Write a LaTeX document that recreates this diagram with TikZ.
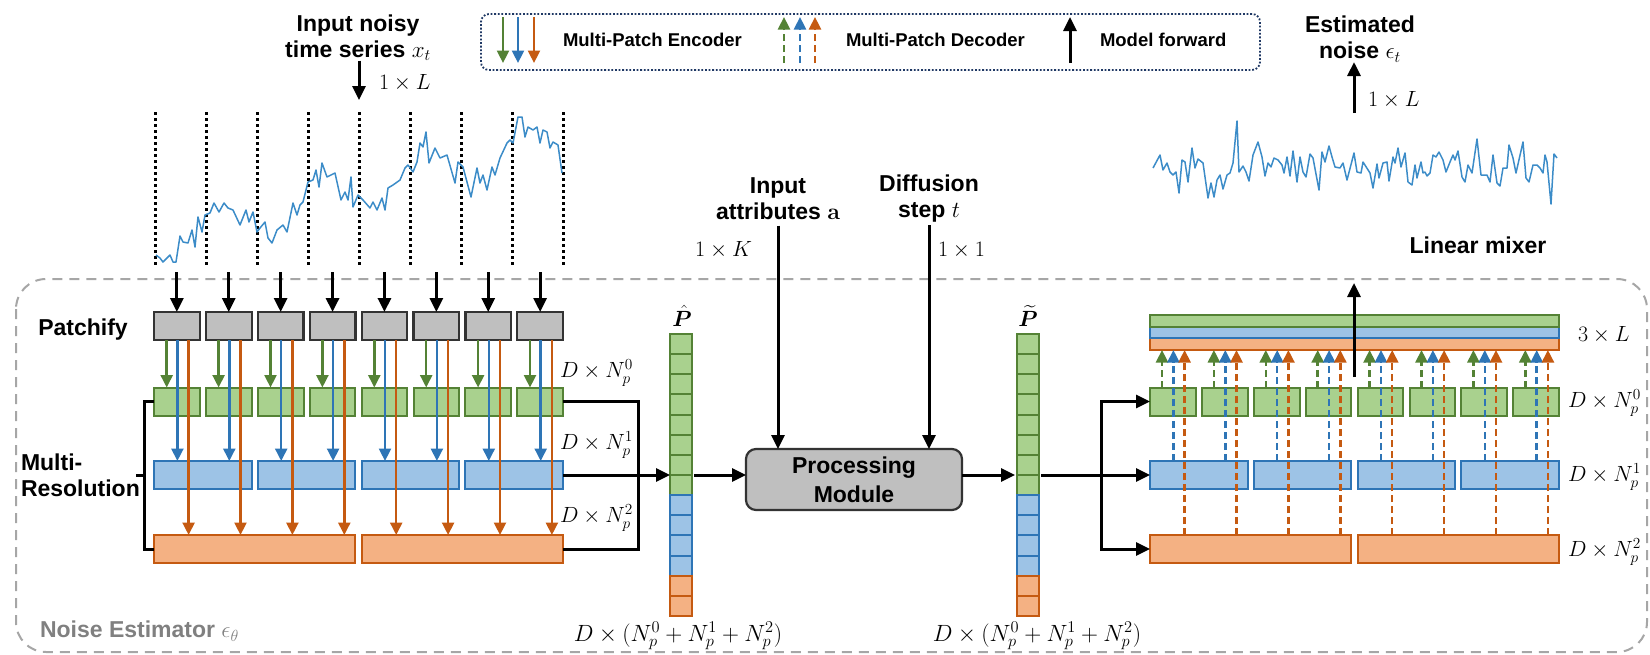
\RequirePackage{fix-cm}
\documentclass[tikz,border=0pt]{standalone}
\usepackage{amsmath,bm}
\usepackage[no-math]{fontspec}
\setmainfont{Liberation Sans}
\usetikzlibrary{arrows.meta,calc}

\definecolor{gfill}{HTML}{A9D18E}
\definecolor{gline}{HTML}{548235}
\definecolor{bfill}{HTML}{9DC3E6}
\definecolor{bline}{HTML}{2E75B6}
\definecolor{ofill}{HTML}{F4B183}
\definecolor{oline}{HTML}{C55A11}
\definecolor{pgray}{HTML}{BFBFBF}
\definecolor{dgray}{HTML}{333333}
\definecolor{framegray}{HTML}{A6A6A6}
\definecolor{navy}{HTML}{1F3864}
\definecolor{series}{HTML}{3C8CC8}
\definecolor{lblgray}{HTML}{808080}

\begin{document}
\begin{tikzpicture}[x=1pt,y=-1pt,
  every node/.style={inner sep=0pt,outer sep=0pt},
  lab/.style={font=\fontsize{23}{26}\selectfont\bfseries,align=center},
  legtext/.style={font=\fontsize{18.5}{22}\selectfont\bfseries,anchor=west},
  mth/.style={font=\fontsize{22}{26}\selectfont},
  bigmth/.style={font=\fontsize{23.5}{27}\selectfont},
  patchbox/.style={draw=dgray,fill=pgray,line width=2.2pt,minimum width=45.7pt,minimum height=28pt},
  gbox/.style={draw=gline,fill=gfill,line width=2pt,minimum height=28pt},
  bbox/.style={draw=bline,fill=bfill,line width=2pt,minimum height=28pt},
  obox/.style={draw=oline,fill=ofill,line width=2pt,minimum height=28pt},
  gcell/.style={draw=gline,fill=gfill,line width=2pt},
  bcell/.style={draw=bline,fill=bfill,line width=2pt},
  ocell/.style={draw=oline,fill=ofill,line width=2pt},
  ktip/.style={-{Triangle[length=14pt,width=13pt]}},
  ctip/.style={-{Triangle[length=12.5pt,width=12pt]}},
  karr/.style={draw=black,line width=3pt,ktip},
  kline/.style={draw=black,line width=3pt},
  garr/.style={draw=gline,line width=2.5pt,ctip},
  barr/.style={draw=bline,line width=2.5pt,ctip},
  oarr/.style={draw=oline,line width=2.5pt,ctip},
  dashedarr/.style={dash pattern=on 7pt off 4pt},
  seriesline/.style={draw=series,line width=1.5pt,line join=round},
  dotline/.style={draw=black,line width=3pt,dash pattern=on 3pt off 3pt},
  proc/.style={draw=dgray,fill=pgray,line width=2.2pt,rounded corners=10pt,
    minimum width=216pt,minimum height=61pt,font=\fontsize{23}{29}\selectfont\bfseries,align=center}
]
\useasboundingbox (0,0) rectangle (1650,654);

% ---------- outer frame of the noise estimator ----------
\draw[draw=framegray,line width=2pt,dash pattern=on 10pt off 7pt,rounded corners=30pt]
  (16,279) rectangle (1647,652);
\node[lab,anchor=west,text=lblgray] (nelabel) at (40,631) {Noise Estimator $\epsilon_\theta$};

% ---------- legend ----------
\node[draw=navy,line width=1.8pt,dash pattern=on 1.8pt off 1.8pt,rounded corners=8pt,
      minimum width=779pt,minimum height=56pt] (legend) at (870.5,42) {};
\draw[garr] (503,17) -- (503,63);
\draw[barr] (518,17) -- (518,63);
\draw[oarr] (534,17) -- (534,63);
\node[legtext] (legenc) at (563,40) {Multi-Patch Encoder};
\draw[garr,dashedarr] (784,63) -- (784,17);
\draw[barr,dashedarr] (800,63) -- (800,17);
\draw[oarr,dashedarr] (815,63) -- (815,17);
\node[legtext] (legdec) at (846,40) {Multi-Patch Decoder};
\draw[karr] (1070,63) -- (1070,17);
\node[legtext] (legfwd) at (1100,40) {Model forward};

% ---------- input series ----------
\node[lab] (intitle) at (358,37.5) {Input noisy\\time series $x_t$};
\coordinate (inend) at (359,100);
\draw[karr] (intitle.south -| inend) -- (inend);
\node[mth,anchor=west] (inL) at (379,83) {$1\times L$};

\foreach \k in {0,...,8} \draw[dotline] ({155+51*\k},112) -- ({155+51*\k},267);

\draw[seriesline] plot coordinates {
(156,255)(160,258)(163,262)(167,258)(170,255)(173,262)(176,262)(180,236)(183,242)(188,243)(192,230)(195,247)
(198,217)(202,232)(205,215)(210,213)(214,203)(219,212)(224,203)(228,208)(233,210)(240,225)(246,210)
(249,222)(253,212)(257,232)(260,228)(265,222)(268,238)(272,243)(277,230)(283,225)(287,232)(293,203)
(297,215)(300,205)(303,202)(308,182)(313,180)(316,170)(319,187)(322,163)(327,177)(335,173)(341,200)
(345,192)(348,200)(351,177)(353,207)(358,195)(363,200)(370,208)(373,202)(377,210)(382,198)(385,210)
(388,188)(393,185)(400,180)(405,168)(408,165)(413,172)(417,162)(420,143)(423,147)(426,132)(429,163)
(435,148)(440,158)(447,155)(455,183)(458,162)(463,167)(471,197)(477,168)(480,183)(483,175)(487,190)
(492,167)(495,175)(500,158)(507,143)(510,140)(513,143)(518,117)(522,117)(525,137)(528,127)(533,130)
(537,127)(540,143)(543,130)(547,132)(550,148)(553,142)(558,145)(562,173)};

% ---------- encoder ----------
\node[lab] (patchify) at (83,330) {Patchify};
\node[lab,anchor=west,align=left] (multires) at (21,475.5) {Multi-\\Resolution};

\foreach \i in {0,...,7} {
  \node[patchbox] (p\i) at ({154+51.9*\i+22.85},326) {};
  \node[gbox,minimum width=45.7pt] (g\i) at ({154+51.9*\i+22.85},401.5) {};
  \coordinate (pin\i) at ({154+51.9*\i+22.85},272);
  \draw[karr] (pin\i) -- (p\i.north);
}
\foreach \j in {0,...,3}
  \node[bbox,minimum width=97.6pt] (b\j) at ({154+103.8*\j+48.8},475) {};
\foreach \k in {0,1}
  \node[obox,minimum width=201.4pt] (o\k) at ({154+207.6*\k+100.7},549) {};

\foreach \i in {0,...,7} {
  \pgfmathtruncatemacro\j{\i/2}
  \pgfmathtruncatemacro\k{\i/4}
  \draw[garr] ([xshift=12.7pt]p\i.south west) -- ([xshift=12.7pt]p\i.south west |- g\i.north);
  \draw[barr] ([xshift=23.4pt]p\i.south west) -- ([xshift=23.4pt]p\i.south west |- b\j.north);
  \draw[oarr] ([xshift=34.6pt]p\i.south west) -- ([xshift=34.6pt]p\i.south west |- o\k.north);
}

% bracket grouping the resolutions
\coordinate (brk) at (144,475);
\draw[kline] (g0.west) -| (brk) |- (o0.west);
\draw[kline] (brk) -- ++(-8,0);

\node[mth,anchor=west] (encd0) at (560,373) {$D\times N_p^0$};
\node[mth,anchor=west] (encd1) at (560,445) {$D\times N_p^1$};
\node[mth,anchor=west] (encd2) at (560,518) {$D\times N_p^2$};

% ---------- concatenated tokens P hat ----------
\node[minimum width=22pt,minimum height=260pt] (ph) at (681,475) {};
\foreach \c in {0,...,7} \draw[gcell] (670,{334+20.143*\c}) rectangle ++(22,20.143);
\foreach \c in {8,...,11} \draw[bcell] (670,{334+20.143*\c}) rectangle ++(22,20.143);
\foreach \c in {12,13} \draw[ocell] (670,{334+20.143*\c}) rectangle ++(22,20.143);
\node[mth] (phlabel) at (682,316) {$\hat{\bm{P}}$};
\node[bigmth] (phdim) at (678,636) {$D\times(N_p^0+N_p^1+N_p^2)$};

\coordinate (ej) at (638,475);
\draw[kline] (g7.east) -| (ej) |- (o1.east);
\draw[karr] (b3.east) -- (ph.west |- b3.east);

% ---------- processing module ----------
\node[proc] (pm) at (854,479.5) {Processing\\Module};
\draw[karr] ([xshift=2pt]ph.east) -- (pm.west |- ph.east);

\node[lab] (attr) at (778,198.5) {Input\\attributes $\mathbf{a}$};
\node[lab] (diff) at (929,198.5) {Diffusion\\step $t$};
\draw[karr] ([yshift=-6pt]attr.south) -- (attr.south |- pm.north);
\draw[karr] ([yshift=-3pt]diff.south) -- (diff.south |- pm.north);
\node[mth,anchor=east] (attrdim) at (752,250) {$1\times K$};
\node[mth,anchor=west] (diffdim) at (938,250) {$1\times 1$};

% ---------- processed tokens P tilde ----------
\node[minimum width=22pt,minimum height=260pt] (pt) at (1028,475) {};
\foreach \c in {0,...,7} \draw[gcell] (1017,{334+20.143*\c}) rectangle ++(22,20.143);
\foreach \c in {8,...,11} \draw[bcell] (1017,{334+20.143*\c}) rectangle ++(22,20.143);
\foreach \c in {12,13} \draw[ocell] (1017,{334+20.143*\c}) rectangle ++(22,20.143);
\node[mth] (ptlabel) at (1028,316) {$\widetilde{\bm{P}}$};
\node[bigmth] (ptdim) at (1037,636) {$D\times(N_p^0+N_p^1+N_p^2)$};

\draw[karr] (pm.east |- pt.west) -- ([xshift=-2pt]pt.west);

% ---------- decoder ----------
\foreach \i in {0,...,7}
  \node[gbox,minimum width=45.7pt] (dg\i) at ({1150+51.9*\i+22.85},401.5) {};
\foreach \j in {0,...,3}
  \node[bbox,minimum width=97.6pt] (db\j) at ({1150+103.8*\j+48.8},475) {};
\foreach \k in {0,1}
  \node[obox,minimum width=201.4pt] (do\k) at ({1150+207.6*\k+100.7},549) {};

\node[draw=oline,fill=ofill,line width=2pt,minimum width=409pt,minimum height=12pt] (baro) at (1354.5,344) {};
\node[draw=bline,fill=bfill,line width=2pt,minimum width=409pt,minimum height=11pt] (barb) at (1354.5,332.5) {};
\node[draw=gline,fill=gfill,line width=2pt,minimum width=409pt,minimum height=12pt] (barg) at (1354.5,321) {};
\node[mth,anchor=west] (bardim) at (1578,335) {$3\times L$};

\coordinate (df) at (1101,475);
\draw[karr] ([xshift=2pt]pt.east) -- (db0.west);
\draw[karr] (df) |- (dg0.west);
\draw[karr] (df) |- (do0.west);

\foreach \i in {0,...,7} {
  \pgfmathtruncatemacro\j{\i/2}
  \pgfmathtruncatemacro\k{\i/4}
  \draw[garr,dashedarr] ([xshift=12pt]dg\i.north west) -- ([xshift=12pt]dg\i.north west |- baro.south);
  \draw[barr,dashedarr] ([xshift=23.4pt]dg\i.north west |- db\j.north) -- ([xshift=23.4pt]dg\i.north west |- baro.south);
  \draw[oarr,dashedarr] ([xshift=34.6pt]dg\i.north west |- do\k.north) -- ([xshift=34.6pt]dg\i.north west |- baro.south);
}

\node[mth,anchor=west] (decd0) at (1568,403) {$D\times N_p^0$};
\node[mth,anchor=west] (decd1) at (1568,477) {$D\times N_p^1$};
\node[mth,anchor=west] (decd2) at (1568,552) {$D\times N_p^2$};

% linear mixer output
\coordinate (mfb) at (1354,377);
\coordinate (mft) at (1354,283);
\draw[karr] (mfb) -- (mft);
\node[lab] (mixer) at (1478,245) {Linear mixer};

\draw[seriesline] plot coordinates {
(1153,168)(1160,155)(1163,170)(1167,163)(1170,172)(1173,175)(1176,172)(1179,193)(1182,160)(1185,162)
(1188,182)(1192,148)(1195,168)(1198,159)(1203,163)(1208,198)(1211,183)(1214,197)(1217,180)(1220,175)
(1223,189)(1227,175)(1230,173)(1233,163)(1237,121)(1239,172)(1243,166)(1246,172)(1249,181)(1253,155)
(1258,142)(1262,157)(1265,176)(1268,163)(1271,167)(1274,158)(1278,160)(1282,165)(1284,173)(1287,157)
(1290,176)(1293,151)(1297,182)(1300,157)(1303,172)(1306,177)(1310,154)(1313,158)(1319,190)(1322,152)
(1325,162)(1329,146)(1332,157)(1335,167)(1340,168)(1343,163)(1347,180)(1354,153)(1357,172)(1361,173)
(1363,162)(1370,173)(1373,188)(1377,164)(1379,178)(1383,163)(1387,162)(1389,181)(1393,157)(1395,163)
(1398,148)(1401,167)(1405,153)(1408,182)(1412,185)(1415,165)(1417,178)(1421,162)(1423,173)(1425,172)
(1427,176)(1430,173)(1433,155)(1436,157)(1439,152)(1443,160)(1446,172)(1450,162)(1453,155)(1455,160)
(1458,151)(1462,177)(1465,182)(1468,165)(1472,173)(1477,139)(1481,175)(1487,175)(1490,182)(1493,155)
(1497,183)(1500,186)(1503,168)(1507,168)(1509,145)(1513,158)(1516,173)(1523,142)(1526,178)(1529,182)
(1533,165)(1537,165)(1540,168)(1543,173)(1545,155)(1547,162)(1551,204)(1554,154)(1557,158)};

\node[lab] (estnoise) at (1360,39) {Estimated\\noise $\epsilon_t$};
\coordinate (lmtop) at (1354,113);
\draw[karr] (lmtop) -- (estnoise.south -| lmtop);
\node[mth,anchor=west] (outL) at (1368,100) {$1\times L$};

\end{tikzpicture}
\end{document}
